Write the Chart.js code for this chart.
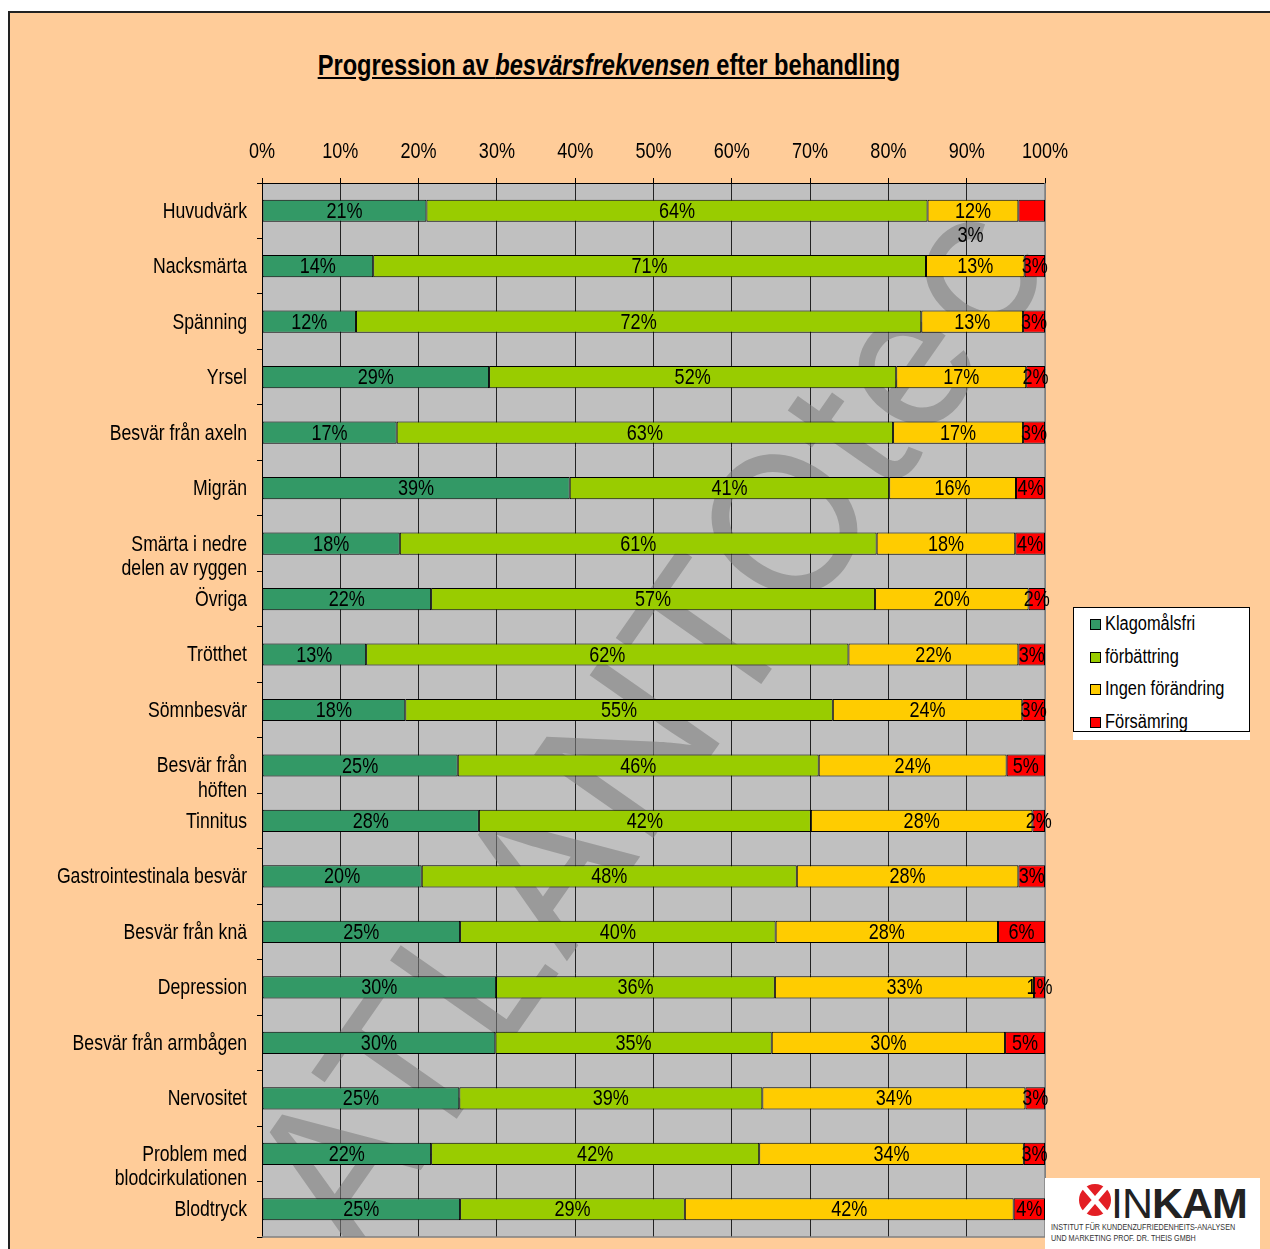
<!DOCTYPE html>
<html>
<head>
<meta charset="utf-8">
<script src="https://cdn.jsdelivr.net/npm/chart.js@4/dist/chart.umd.min.js"></script>
<style>
  body { margin: 0; width: 1270px; height: 1249px; overflow: hidden; position: relative; background: #fff;
         font-family: "Liberation Sans", Arial, sans-serif; }
  #frame { position: absolute; left: 8px; top: 11px; width: 1280px; height: 1260px; background: #FFCC99;
           border: 2px solid #222; box-sizing: border-box; }
  #title { position: absolute; left: 0; width: 1218px; top: 49px; text-align: center; font-weight: bold;
           font-size: 29px; text-decoration: underline; color: #000; transform: scaleX(0.816); transform-origin: 609px 0; }
  #chartBox { position: absolute; left: 0; top: 0; width: 1270px; height: 1249px; }
  #legendWrap { position: absolute; left: 1073px; top: 607px; width: 177px; height: 133px; background: #fff; }
  #legend { width: 177px; height: 125px; border: 1px solid #000; box-sizing: border-box; padding-top: 3px; }
  #legend div { height: 32.7px; line-height: 24px; font-size: 20px; padding-left: 16px; color: #000; white-space: nowrap; }
  #legend span.m { display: inline-block; width: 9px; height: 9px; border: 1px solid #000; margin-right: 4px; vertical-align: 0px; }
  #legend span.t { display: inline-block; transform: scaleX(0.82); transform-origin: 0 0; }
  #logo { position: absolute; left: 1045px; top: 1178px; width: 215px; height: 71px; background: #fff; }
  #logo .big { position: absolute; left: 66px; top: 1px; font-size: 43px; color: #222; letter-spacing: -1px; }
  #logo .big b { font-weight: 900; }
  #logo .small { position: absolute; left: 6px; top: 44px; font-size: 9px; line-height: 11px; color: #333; white-space: nowrap;
                 transform: scaleX(0.8); transform-origin: 0 0; }
</style>
</head>
<body>
<div id="frame"></div>
<div id="title">Progression av <i>besvärsfrekvensen</i> efter behandling</div>
<div id="chartBox"><canvas id="myChart" width="1270" height="1249"></canvas></div>
<div id="legendWrap"><div id="legend"></div></div>
<div id="logo">
  <svg width="40" height="40" style="position:absolute;left:30px;top:4px" viewBox="0 0 40 40">
    <circle cx="20" cy="18" r="16" fill="#e31e24"/>
    <path d="M8 4 L32 32 M32 4 L8 32" stroke="#fff" stroke-width="5"/>
  </svg>
  <div class="big">IN<b>KAM</b></div>
  <div class="small">INSTITUT FÜR KUNDENZUFRIEDENHEITS-ANALYSEN<br>UND MARKETING PROF. DR. THEIS GMBH</div>
</div>
<script>
// categories (top to bottom)
var categories = ["Huvudvärk", "Nacksmärta", "Spänning", "Yrsel", "Besvär från axeln", "Migrän",
  ["Smärta i nedre", "delen av ryggen"], "Övriga", "Trötthet", "Sömnbesvär", ["Besvär från", "höften"],
  "Tinnitus", "Gastrointestinala besvär", "Besvär från knä", "Depression", "Besvär från armbågen",
  "Nervositet", ["Problem med", "blodcirkulationen"], "Blodtryck"];

// shares in percent
var klagomalsfri    = [21.0, 14.2, 12.0, 29.0, 17.2, 39.3, 17.6, 21.6, 13.3, 18.3, 25.0, 27.7, 20.4, 25.3, 29.9, 29.8, 25.2, 21.6, 25.3];
var forbattring     = [64.0, 70.6, 72.2, 52.0, 63.4, 40.8, 60.9, 56.7, 61.6, 54.6, 46.1, 42.4, 47.9, 40.3, 35.6, 35.3, 38.7, 41.9, 28.7];
var ingenForandring = [11.6, 12.6, 13.0, 16.6, 16.6, 16.2, 17.7, 19.6, 21.7, 24.2, 24.0, 28.3, 28.3, 28.4, 33.1, 29.8, 33.6, 33.8, 42.0];
var forsamring      = [3.4, 2.6, 2.8, 2.4, 2.8, 3.7, 3.8, 2.1, 3.4, 2.9, 4.9, 1.6, 3.4, 6.0, 1.4, 5.1, 2.5, 2.7, 4.0];

var seriesNames = ["Klagomålsfri", "förbättring", "Ingen förändring", "Försämring"];
var seriesColors = ["#339966", "#99CC00", "#FFCC00", "#FF0000"];

// the original uses a narrow face; squeeze Liberation Sans to get close
function narrowText(c, txt, x, y, align, size) {
  c.save();
  c.font = size + "px 'Liberation Sans', Arial, sans-serif";
  c.fillStyle = "#000";
  c.textAlign = align;
  c.textBaseline = "middle";
  c.translate(x, y);
  c.scale(0.82, 1);
  c.fillText(txt, 0, 0);
  c.restore();
}

// grey plot area, watermark, plot border
var plotBg = {
  id: "plotBg",
  beforeDraw: function (chart) {
    var a = chart.chartArea, c = chart.ctx;
    c.save();
    c.fillStyle = "#C0C0C0";
    c.fillRect(a.left, a.top, a.right - a.left, a.bottom - a.top);
    c.restore();
  },
  beforeDatasetsDraw: function (chart) {
    var a = chart.chartArea, c = chart.ctx;
    c.save();
    c.beginPath();
    c.rect(a.left, a.top, a.right - a.left, a.bottom - a.top);
    c.clip();
    c.translate(a.left + 395, a.top + 545);
    c.rotate(-55 * Math.PI / 180);
    c.fillStyle = "rgba(128,128,128,0.6)";
    c.font = "400 200px Inter";
    c.textAlign = "center";
    c.textBaseline = "middle";
    c.fillText("ATLANTOtec", 0, 0);
    c.restore();
    c.save();
    c.strokeStyle = "#808080";
    c.lineWidth = 1.5;
    c.beginPath();
    c.moveTo(a.right, a.top);
    c.lineTo(a.right, a.bottom);
    c.lineTo(a.left, a.bottom);
    c.stroke();
    c.restore();
  }
};

// percent labels inside the bars
var barLabels = {
  id: "barLabels",
  afterDatasetsDraw: function (chart) {
    chart.data.datasets.forEach(function (ds, di) {
      var meta = chart.getDatasetMeta(di);
      meta.data.forEach(function (bar, i) {
        var x = (bar.x + bar.base) / 2;
        var y = bar.y + 1;
        if (di === 3 && i === 0) {
          // this one sits under the bar in the original
          x = chart.scales.x.getPixelForValue(90.5);
          y = bar.y + 25;
        }
        narrowText(chart.ctx, Math.round(ds.data[i]) + "%", x, y, "center", 22);
      });
    });
  }
};

// axis labels, drawn at the scales' own tick positions
var axisLabels = {
  id: "axisLabels",
  afterDraw: function (chart) {
    var sx = chart.scales.x, sy = chart.scales.y;
    sx.ticks.forEach(function (t) {
      narrowText(chart.ctx, t.value + "%", sx.getPixelForValue(t.value), sx.bottom - 31, "center", 22);
    });
    sy.ticks.forEach(function (t) {
      var lab = chart.data.labels[t.value];
      var lines = Array.isArray(lab) ? lab : [lab];
      var y = sy.getPixelForValue(t.value) + 1;
      lines.forEach(function (ln, k) {
        narrowText(chart.ctx, ln, sy.right - 15, y + k * 24.5, "right", 21.5);
      });
    });
  }
};

var datasets = [klagomalsfri, forbattring, ingenForandring, forsamring].map(function (vals, k) {
  return {
    label: seriesNames[k],
    data: vals,
    backgroundColor: seriesColors[k],
    borderColor: "#000",
    borderWidth: 1,
    borderSkipped: false,
    categoryPercentage: 1.0,
    barPercentage: 0.4
  };
});

var myChart = document.getElementById("myChart").getContext("2d");
var chart = new Chart(myChart, {
  type: "bar",
  data: { labels: categories, datasets: datasets },
  options: {
    indexAxis: "y",
    responsive: false,
    animation: false,
    layout: { padding: { left: 0, right: 225, top: 100, bottom: 12 } },
    plugins: { legend: { display: false }, tooltip: { enabled: false } },
    scales: {
      x: {
        position: "top",
        stacked: true,
        min: 0,
        max: 100,
        afterFit: function (s) { s.height = 83; },
        ticks: { stepSize: 10, display: false },
        grid: {
          color: function (ctx) { return ctx.tick && ctx.tick.value === 100 ? "#808080" : "#222"; },
          tickColor: "#000",
          tickLength: 5,
          lineWidth: 1
        },
        border: { display: true, color: "#000", width: 1 }
      },
      y: {
        stacked: true,
        afterFit: function (s) { s.width = 262; },
        ticks: { display: false },
        grid: { offset: true, drawOnChartArea: false, tickLength: 5, color: "#000" },
        border: { display: true, color: "#000", width: 1 }
      }
    }
  },
  plugins: [plotBg, barLabels, axisLabels]
});

// legend
var lg = document.getElementById("legend");
seriesNames.forEach(function (n, k) {
  var d = document.createElement("div");
  d.innerHTML = '<span class="m" style="background:' + seriesColors[k] + '"></span><span class="t">' + n + '</span>';
  lg.appendChild(d);
});
</script>
</body>
</html>
